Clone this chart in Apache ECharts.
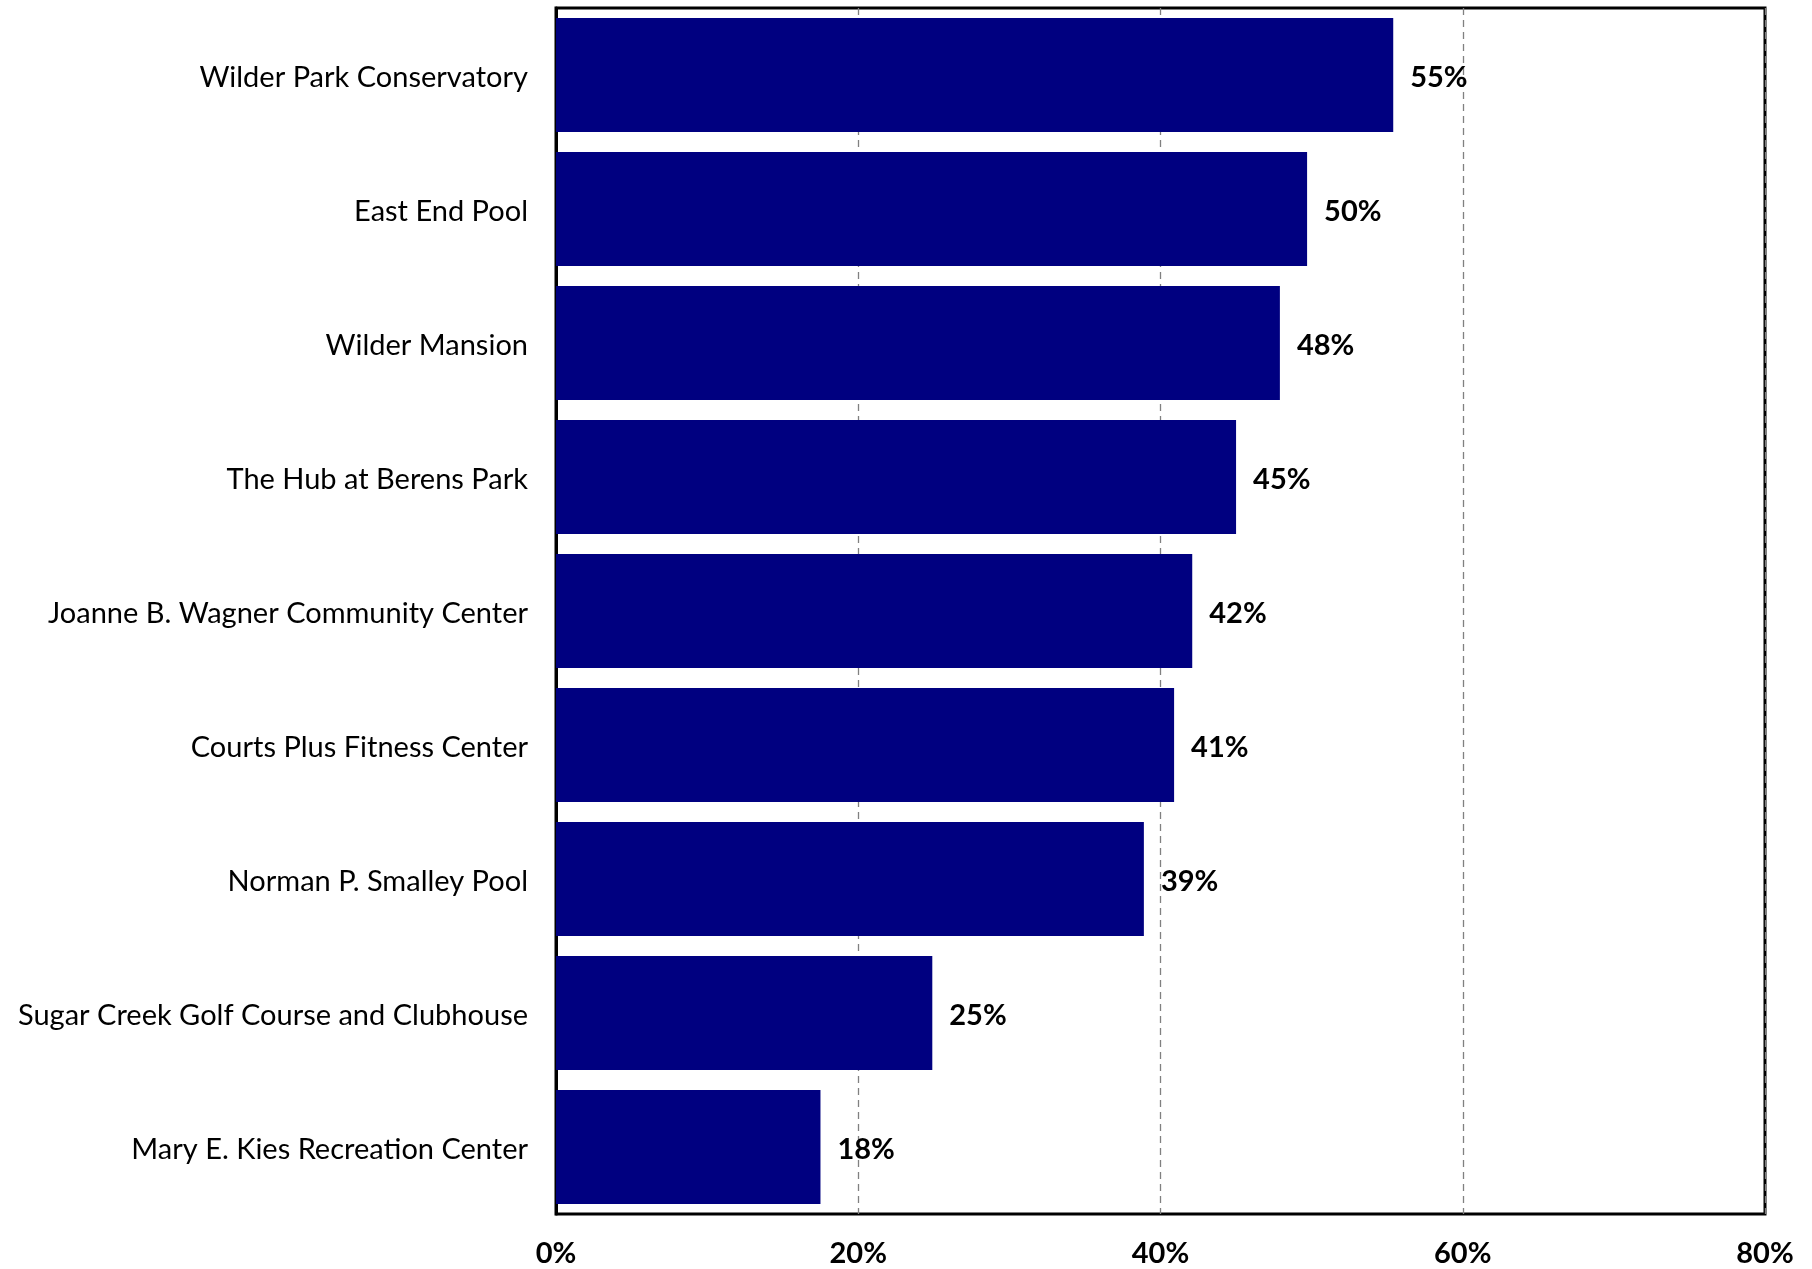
<!DOCTYPE html>
<html>
<head>
<meta charset="utf-8">
<script src="https://cdn.jsdelivr.net/npm/echarts@6/dist/echarts.min.js"></script>
<style>
html,body{margin:0;padding:0;background:#fff;}
#chart{width:1812px;height:1269px;}
</style>
</head>
<body>
<div id="chart"></div>
<script>
const categories = [
  "Wilder Park Conservatory",
  "East End Pool",
  "Wilder Mansion",
  "The Hub at Berens Park",
  "Joanne B. Wagner Community Center",
  "Courts Plus Fitness Center",
  "Norman P. Smalley Pool",
  "Sugar Creek Golf Course and Clubhouse",
  "Mary E. Kies Recreation Center"
];
const values = [55.4, 49.7, 47.9, 45.0, 42.1, 40.9, 38.9, 24.9, 17.5];
const xTicks = [0, 20, 40, 60, 80];

const FONT = "Lato";
const chart = echarts.init(document.getElementById('chart'), null, {renderer: 'canvas'});
chart.setOption({
  animation: false,
  backgroundColor: '#ffffff',
  grid: {
    left: 556, right: 47, top: 8, bottom: 55,
    show: true, borderColor: '#000', borderWidth: 3, backgroundColor: 'transparent'
  },
  xAxis: {
    type: 'value',
    min: xTicks[0], max: xTicks[xTicks.length - 1], interval: 20,
    axisLine: {show: false},
    axisTick: {show: false},
    splitLine: {show: true, lineStyle: {color: '#808080', type: [7, 5], width: 1.3}},
    axisLabel: {
      margin: 25, color: '#000', fontFamily: FONT, fontWeight: 'bold', fontSize: 29,
      formatter: v => v + '%'
    }
  },
  yAxis: {
    type: 'category',
    data: categories,
    inverse: true,
    axisLine: {show: true, lineStyle: {color: '#000', width: 3}},
    axisTick: {show: false},
    splitLine: {show: false},
    axisLabel: {
      margin: 28, color: '#000', fontFamily: FONT, fontSize: 29,
      formatter: v => '{a|' + v + '}',
      rich: {a: {color: '#000', fontFamily: FONT, fontSize: 29, padding: [6, 0, 0, 0]}}
    }
  },
  series: [{
    type: 'bar',
    data: values,
    barCategoryGap: '15%',
    itemStyle: {color: '#000080'},
    label: {
      show: true, position: 'right', distance: 17, offset: [0, 3],
      color: '#000', fontFamily: FONT, fontWeight: 'bold', fontSize: 29,
      formatter: p => Math.round(p.value) + '%'
    }
  }]
});
</script>
</body>
</html>
